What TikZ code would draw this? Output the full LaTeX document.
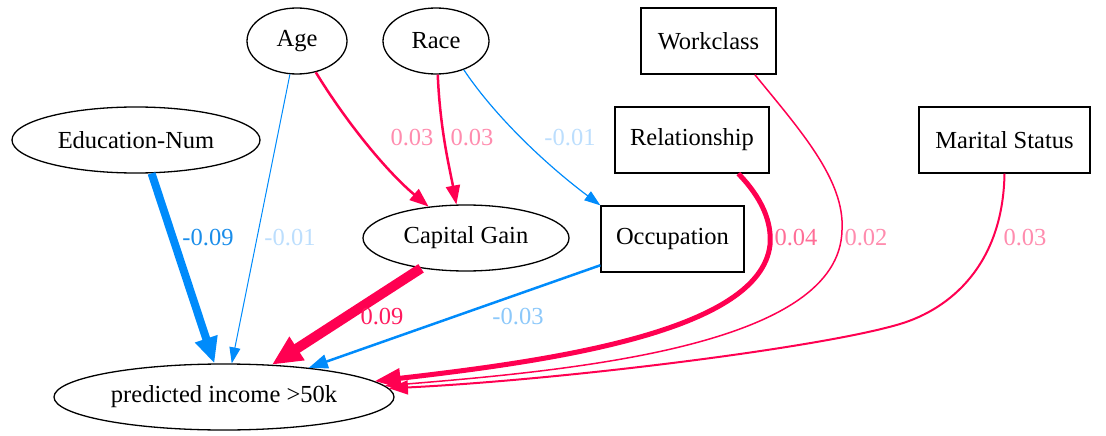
\documentclass[tikz,border=0pt]{standalone}
\usepackage{fontspec}
\setmainfont{Liberation Serif}
\usetikzlibrary{arrows.meta,shapes.geometric}
\definecolor{shred}{HTML}{FF0051}
\definecolor{shblue}{HTML}{008BFB}
\definecolor{lblred}{HTML}{FF1A5E}
\definecolor{lblpinkA}{HTML}{FF6E97}
\definecolor{lblpinkB}{HTML}{FF8CAE}
\definecolor{lblblue}{HTML}{1A8DEA}
\definecolor{lblblueA}{HTML}{8CC8FA}
\definecolor{lblblueB}{HTML}{BCDEFD}
\begin{document}
\begin{tikzpicture}[x=1pt,y=-1pt,
  every node/.style={font=\fontsize{24.5}{28}\selectfont},
  ell/.style={draw, ellipse, line width=1.3pt, inner sep=0pt, minimum height=66pt},
  box/.style={draw, rectangle, line width=1.3pt, inner sep=0pt, minimum height=66pt},
  lbl/.style={inner sep=0pt},
  thin/.style={-{Triangle[length=16pt,width=11pt]}},
  med/.style={-{Triangle[length=19pt,width=14pt]}}]
\useasboundingbox (0,0) rectangle (1106,436);
% nodes
\node[ell, minimum width=100pt] (age) at (297,41) {Age};
\node[ell, minimum width=106pt] (race) at (436,41) {Race};
\node[box, minimum width=135pt] (work) at (708.5,41) {Workclass};
\node[ell, minimum width=248pt] (edu) at (136,140) {Education-Num};
\node[box, minimum width=154pt] (rel) at (692,140) {Relationship};
\node[box, minimum width=171pt] (mar) at (1004.5,140) {Marital Status};
\node[ell, minimum width=206pt] (cap) at (466,238) {Capital Gain};
\node[box, minimum width=143pt] (occ) at (672.5,239) {Occupation};
\node[ell, minimum width=340pt] (pred) at (224,397) {predicted income >50k};
% edges
\draw[shblue, line width=8pt, -{Triangle[length=26pt,width=22pt]}] (edu.-65) -- (pred.106);
\draw[shblue, line width=1pt, thin] (age.-102) -- (pred.77);
\draw[shred, line width=2.5pt, med] (age.-59.7) .. controls (345,120) and (385,170) .. (cap.140.2);
\draw[shred, line width=2.5pt, med] (race.-87) .. controls (440,130) and (450,170) .. (cap.106.9);
\draw[shblue, line width=1.2pt, thin] (race.-46.4) .. controls (492,112) and (540,160) .. (occ.north west);
\draw[shred, line width=10pt, -{Triangle[length=30pt,width=26pt]}] (cap.-146.6) -- (pred.34.7);
\draw[shblue, line width=2.5pt, med] (occ.200.7) -- (pred.19.1);
\draw[shred, line width=5pt, -{Triangle[length=26pt,width=19pt]}] (rel.-36.3) .. controls (762,198) and (772,222) .. (770,245) .. controls (760,330) and (560,360) .. (pred.6);
\draw[shred, line width=1.5pt, thin] (work.-36.6) .. controls (800,130) and (845,180) .. (842,230) .. controls (840,345) and (580,370) .. (pred.4);
\draw[shred, line width=2pt, med] (mar.south) .. controls (1003,265) and (950,309) .. (900,324) .. controls (820,348) and (560,380) .. (pred.3);
% labels
\node[lbl, text=lblblue] (l1) at (208,238) {-0.09};
\node[lbl, text=lblblueB] (l2) at (290,238) {-0.01};
\node[lbl, text=lblpinkB] (l3) at (412,138) {0.03};
\node[lbl, text=lblpinkB] (l4) at (472,138) {0.03};
\node[lbl, text=lblblueB] (l5) at (570,138) {-0.01};
\node[lbl, text=lblred] (l6) at (382,317) {0.09};
\node[lbl, text=lblblueA] (l7) at (518,317) {-0.03};
\node[lbl, text=lblpinkA] (l8) at (796,238) {0.04};
\node[lbl, text=lblpinkB] (l9) at (866,238) {0.02};
\node[lbl, text=lblpinkB] (l10) at (1025,238) {0.03};
\end{tikzpicture}
\end{document}
